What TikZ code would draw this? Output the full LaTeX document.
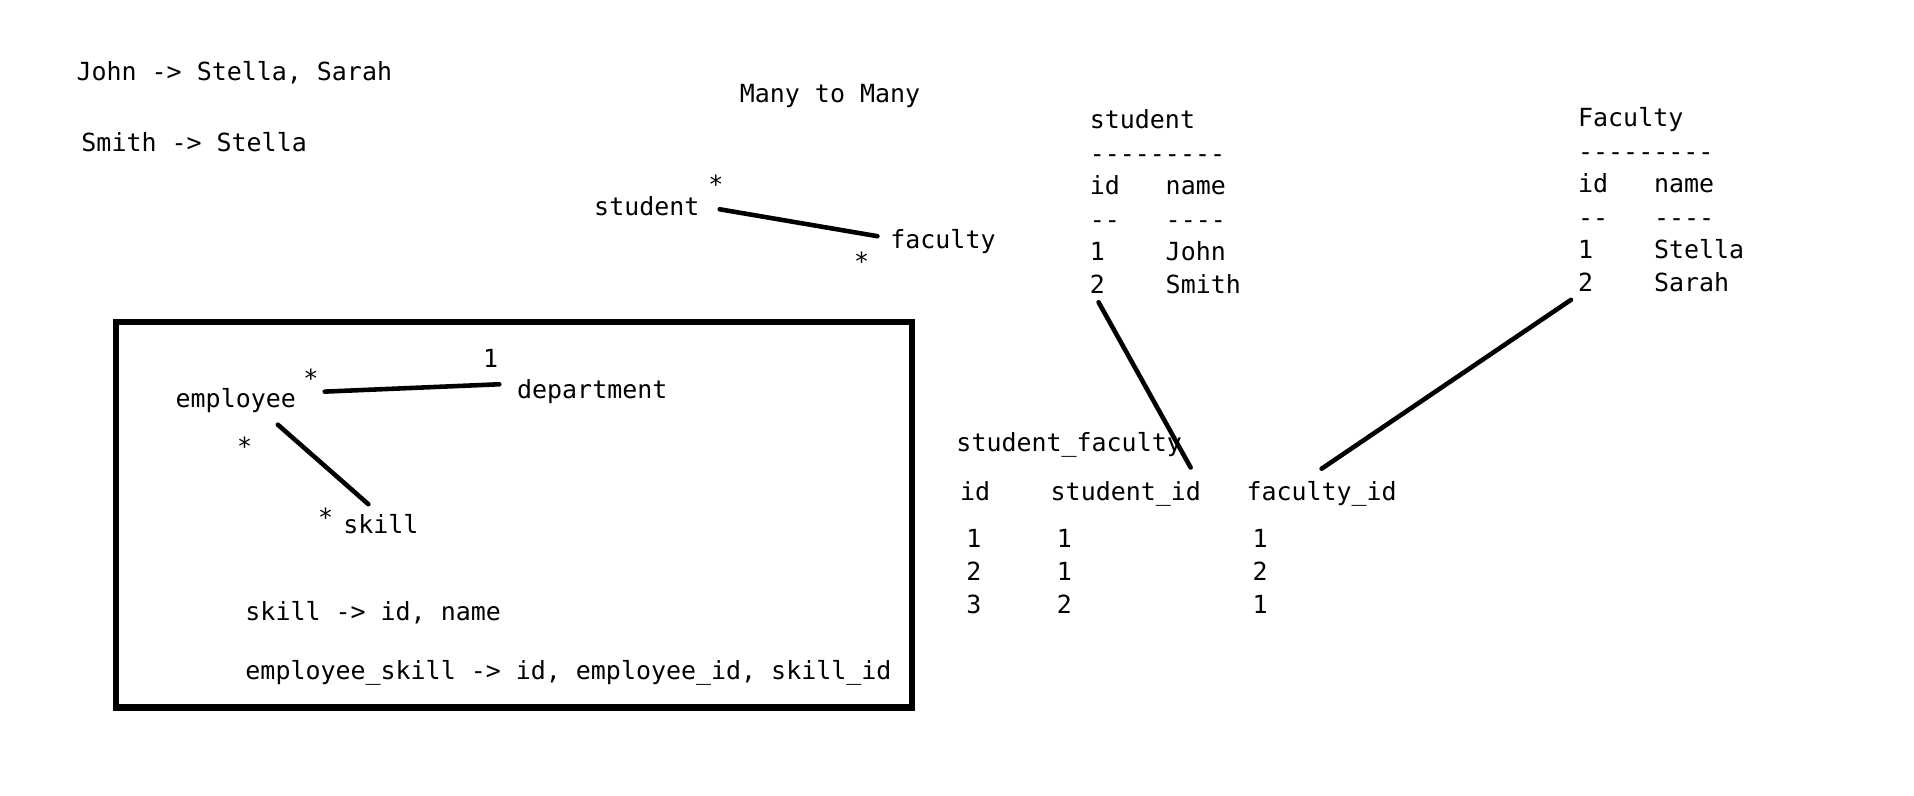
\documentclass[tikz,border=0pt]{standalone}
\usepackage{fontspec}
\setmonofont{DejaVu Sans Mono}
\usetikzlibrary{calc}

\begin{document}
\begin{tikzpicture}[x=0.012238cm, y=-0.012238cm,
  every node/.style={font=\ttfamily\fontsize{7.1}{8.5}\selectfont, inner sep=0pt, anchor=base west},
  mult/.style={anchor=base},
  link/.style={line width=1.3pt, line cap=round}]

\useasboundingbox (0,0) rectangle (1564,650);

% Sample assignments
\node (john) at (62,66) {John -> Stella, Sarah};
\node (smith) at (66,124) {Smith -> Stella};

% Many to many relation
\node (title) at (604,84) {Many to Many};
\node (erstudent) at (485,176) {student};
\node (erfaculty) at (727,203) {faculty};
\node (starst) [mult] at (585,158) {*};
\node (starfa) [mult] at (704,221) {*};

% Student table
\node (sthead) at (890,105) {student};
\node (stline) at (890,133) {---------};
\node (stid) at (890,159) {id};
\node (stname) at (952,159) {name};
\node (stdashid) at (890,187) {--};
\node (stdashname) at (952,187) {----};
\node (st1) at (890,213) {1};
\node (stjohn) at (952,213) {John};
\node (st2) at (890,240) {2};
\node (stsmith) at (952,240) {Smith};

% Faculty table
\node (fahead) at (1289,103) {Faculty};
\node (faline) at (1289,131) {---------};
\node (faid) at (1289,157) {id};
\node (faname) at (1351,157) {name};
\node (fadashid) at (1289,185) {--};
\node (fadashname) at (1351,185) {----};
\node (fa1) at (1289,211) {1};
\node (fastella) at (1351,211) {Stella};
\node (fa2) at (1289,238) {2};
\node (fasarah) at (1351,238) {Sarah};

% Join table
\node (sfhead) at (781,369) {student\_faculty};
\node (sfid) at (784,409) {id};
\node (sfsid) at (858,409) {student\_id};
\node (sffid) at (1018,409) {faculty\_id};
\node (sfid1) at (789,447) {1};
\node (sfsid1) at (863,447) {1};
\node (sffid1) at (1023,447) {1};
\node (sfid2) at (789,474) {2};
\node (sfsid2) at (863,474) {1};
\node (sffid2) at (1023,474) {2};
\node (sfid3) at (789,501) {3};
\node (sfsid3) at (863,501) {2};
\node (sffid3) at (1023,501) {1};

% Boxed example
\draw[line width=1.8pt] (95,263) rectangle (745,578);
\node (employee) at (143,333) {employee};
\node (department) at (422,326) {department};
\node (skill) at (280,436) {skill};
\node (starem) [mult] at (254,317) {*};
\node (onedep) [mult] at (401,300) {1};
\node (starsk) [mult] at (200,372) {*};
\node (starskb) [mult] at (266,430) {*};
\node (skillcols) at (200,507) {skill -> id, name};
\node (linkcols) at (200,555) {employee\_skill -> id, employee\_id, skill\_id};

% Connectors
\draw[link] ($(erstudent.base east)+(16,-5)$) -- ($(erfaculty.base west)+(-10,-10)$);
\draw[link] ($(st2.base)+(1,7)$) -- ($(sfsid.base east)+(-9,-27)$);
\draw[link] ($(fa2.base)+(-12,7)$) -- ($(sffid.base)+(0,-26)$);
\draw[link] ($(employee.base east)+(23,-13)$) -- ($(department.base west)+(-14,-12)$);
\draw[link] ($(employee.base west)+(84,14)$) -- ($(skill.base west)+(21,-24)$);

\end{tikzpicture}
\end{document}
